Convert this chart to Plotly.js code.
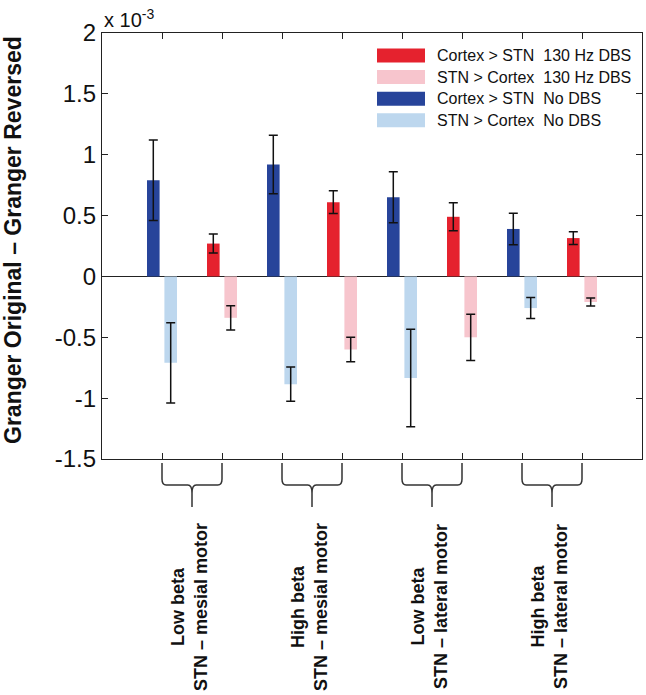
<!DOCTYPE html>
<html>
<head>
<meta charset="utf-8">
<script src="https://cdn.plot.ly/plotly-3.0.1.min.js"></script>
<style>
  body { margin: 0; background: #fff; }
  #chart { width: 646px; height: 695px; }
</style>
</head>
<body>
<div id="chart"></div>
<script>
// values in units of 10^-3
var groupLabels = ['Low beta<br>STN \u2013 mesial motor', 'High beta<br>STN \u2013 mesial motor',
                   'Low beta<br>STN \u2013 lateral motor', 'High beta<br>STN \u2013 lateral motor'];
var noDbsPos = [1, 3, 5, 7];
var dbsPos = [2, 4, 6, 8];

var ctxStnNoDbs = [0.79, 0.92, 0.65, 0.39];
var ctxStnNoDbsErr = [0.33, 0.24, 0.21, 0.13];
var stnCtxNoDbs = [-0.71, -0.885, -0.835, -0.26];
var stnCtxNoDbsErr = [0.33, 0.14, 0.40, 0.086];
var ctxStn130 = [0.27, 0.61, 0.49, 0.315];
var ctxStn130Err = [0.078, 0.093, 0.115, 0.052];
var stnCtx130 = [-0.34, -0.60, -0.50, -0.21];
var stnCtx130Err = [0.10, 0.10, 0.19, 0.032];

var yTickVals = [-1.5, -1, -0.5, 0, 0.5, 1, 1.5, 2];
var yTickText = ['-1.5', '-1', '-0.5', '0', '0.5', '1', '1.5', '2'];

var legendNames = ['Cortex > STN  130 Hz DBS', 'STN > Cortex  130 Hz DBS',
                   'Cortex > STN  No DBS', 'STN > Cortex  No DBS'];
var legendColors = ['#e5222e', '#f7c5cd', '#27449a', '#bdd7ee'];

// plot box in pixels
var L = 102, T = 33, W = 540, H = 426;
function xp(px) { return (px - L) / W; }
function yp(py) { return (T + H - py) / H; }

function barTrace(x, y, err, color, dark) {
    return {
        type: 'bar', x: x, y: y,
        width: 0.21, offset: dark ? -0.25 : 0.04,
        marker: {color: color, line: {width: 0}},
        error_y: {type: 'data', array: err, visible: true,
                  color: '#111', thickness: 1.5, width: 4.5},
        showlegend: false, hoverinfo: 'y'
    };
}

var data = [
    barTrace(noDbsPos, ctxStnNoDbs, ctxStnNoDbsErr, legendColors[2], true),
    barTrace(noDbsPos, stnCtxNoDbs, stnCtxNoDbsErr, legendColors[3], false),
    barTrace(dbsPos, ctxStn130, ctxStn130Err, legendColors[0], true),
    barTrace(dbsPos, stnCtx130, stnCtx130Err, legendColors[1], false)
];

var font = 'Liberation Sans, Arial, sans-serif';
var shapes = [];
var annotations = [];

// curly braces under each group
var yTop = yp(463), yMid = yp(485), yCusp = yp(493), yBot = yp(507), yCorner = yp(479);
var d = 0.07;
groupLabels.forEach(function (lab, i) {
    var a = noDbsPos[i], b = dbsPos[i], g = (a + b) / 2;
    var path = 'M ' + a + ',' + yTop + ' L ' + a + ',' + yCorner +
        ' Q ' + a + ',' + yMid + ' ' + (a + d) + ',' + yMid +
        ' L ' + (g - d) + ',' + yMid +
        ' Q ' + g + ',' + yMid + ' ' + g + ',' + yCusp +
        ' L ' + g + ',' + yBot +
        ' M ' + g + ',' + yCusp +
        ' Q ' + g + ',' + yMid + ' ' + (g + d) + ',' + yMid +
        ' L ' + (b - d) + ',' + yMid +
        ' Q ' + b + ',' + yMid + ' ' + b + ',' + yCorner +
        ' L ' + b + ',' + yTop;
    shapes.push({type: 'path', xref: 'x', yref: 'paper', path: path,
                 line: {color: '#333', width: 1.5}});
    annotations.push({xref: 'x', yref: 'paper', x: g, y: yp(607), xshift: -3,
                      text: '<b>' + lab + '</b>', textangle: -90, showarrow: false,
                      xanchor: 'center', yanchor: 'middle', align: 'center',
                      font: {family: font, size: 18, color: '#111'}});
});

// legend drawn by hand to match the wide swatches
legendNames.forEach(function (name, i) {
    var cy = 55.5 + i * 21.6;
    shapes.push({type: 'rect', xref: 'paper', yref: 'paper',
                 x0: xp(377), x1: xp(425), y0: yp(cy + 7), y1: yp(cy - 7),
                 fillcolor: legendColors[i], line: {width: 0}});
    annotations.push({xref: 'paper', yref: 'paper', x: xp(435), y: yp(cy),
                      xanchor: 'left', yanchor: 'middle', showarrow: false,
                      text: name.replace(/  /g, '&nbsp; '),
                      font: {family: font, size: 16, color: '#111'}});
});

// y title and exponent
annotations.push({xref: 'paper', yref: 'paper', x: xp(13), y: yp(240),
                  xanchor: 'center', yanchor: 'middle', textangle: -90, showarrow: false,
                  text: '<b>Granger Original \u2013 Granger Reversed</b>',
                  font: {family: font, size: 23, color: '#111'}});
annotations.push({xref: 'paper', yref: 'paper', x: 0, y: 1, xanchor: 'left', yanchor: 'bottom',
                  showarrow: false, text: 'x 10<sup>-3</sup>',
                  font: {family: font, size: 20, color: '#111'}});

var layout = {
    width: 646, height: 695,
    margin: {l: L, r: 646 - L - W, t: T, b: 695 - T - H},
    paper_bgcolor: '#fff', plot_bgcolor: '#fff',
    barmode: 'overlay',
    font: {family: font, color: '#111'},
    xaxis: {range: [0, 9], tickvals: [1, 2, 3, 4, 5, 6, 7, 8], showticklabels: false,
            ticks: 'inside', ticklen: 6, tickcolor: '#222', showgrid: false, zeroline: false,
            showline: true, linecolor: '#222', linewidth: 1.2, mirror: 'ticks', fixedrange: true},
    yaxis: {range: [-1.5, 2], tickvals: yTickVals, ticktext: yTickText,
            ticks: 'inside', ticklen: 6, tickcolor: '#222', showgrid: false,
            zeroline: true, zerolinecolor: '#222', zerolinewidth: 1.5,
            showline: true, linecolor: '#222', linewidth: 1.2, mirror: 'ticks',
            tickfont: {family: font, size: 24, color: '#111'}, fixedrange: true},
    shapes: shapes,
    annotations: annotations
};

Plotly.newPlot('chart', data, layout, {staticPlot: true});
</script>
</body>
</html>
